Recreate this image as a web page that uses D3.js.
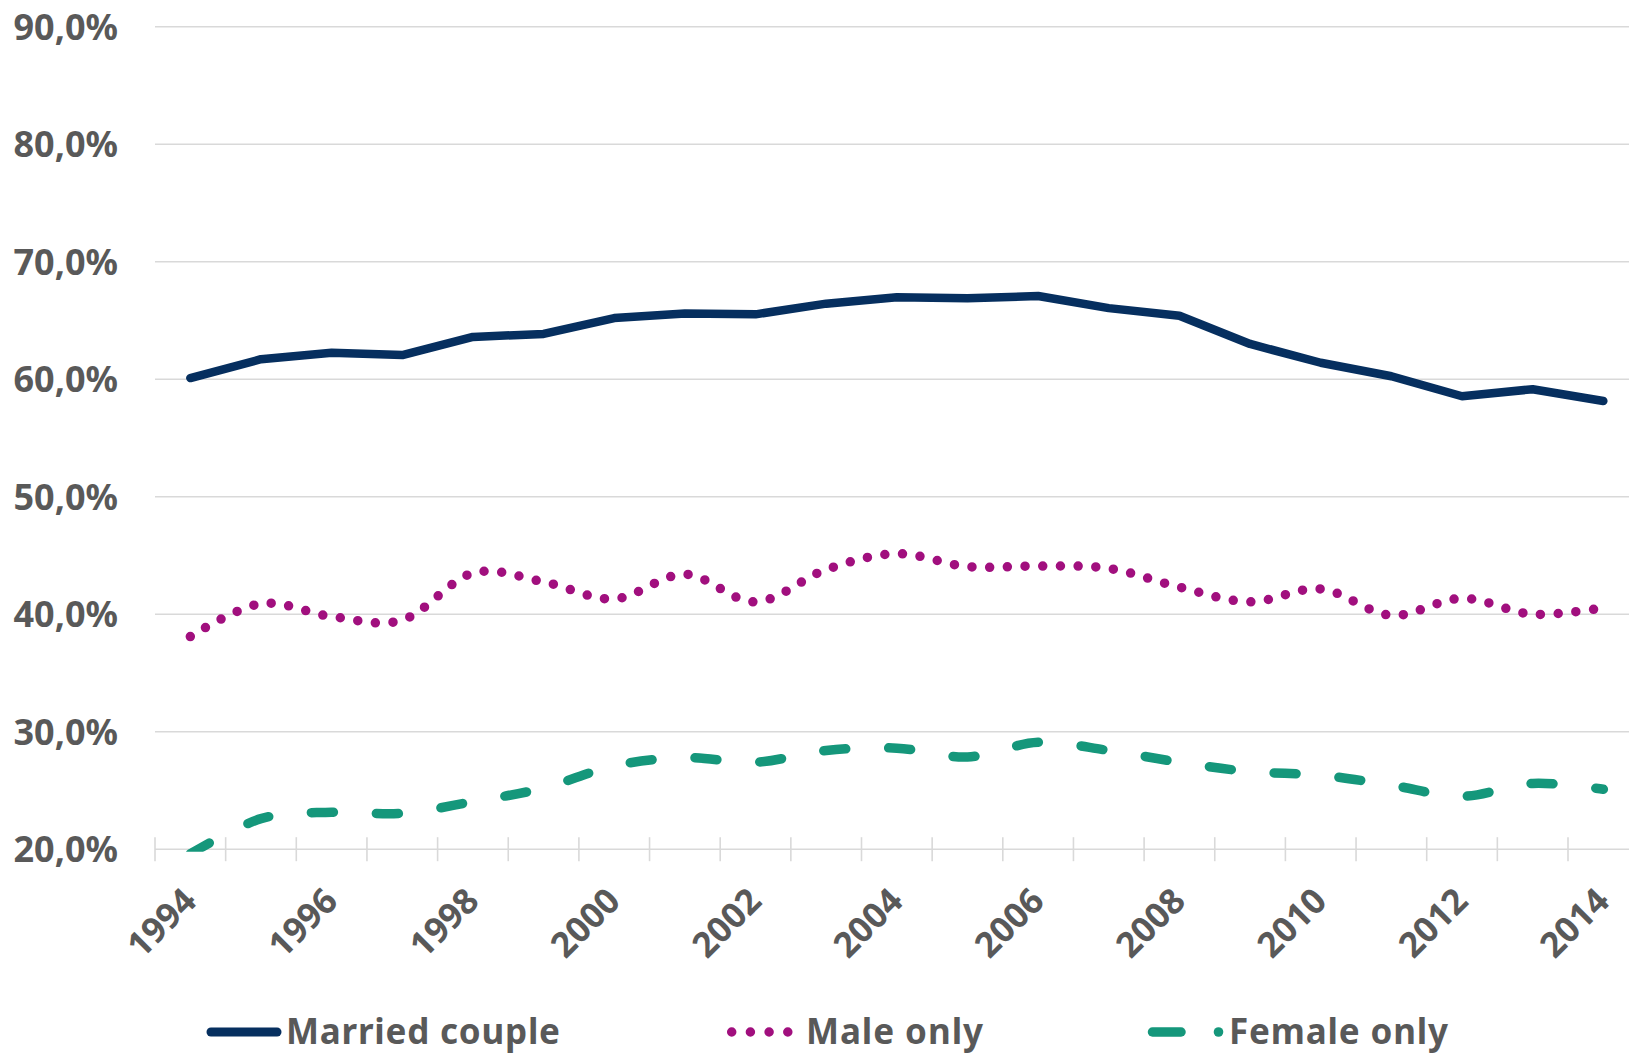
<!DOCTYPE html>
<html><head><meta charset="utf-8">
<script src="https://cdn.jsdelivr.net/npm/d3@7"></script>
<style>
html,body{margin:0;padding:0;background:#fff;}
svg{display:block;}
text{font-family:"Noto Sans",sans-serif;font-weight:700;fill:#595959;}
</style>
</head><body>
<svg id="chart" width="1629" height="1053"></svg>
<script>
// ---- data ----
const years = [1994,1995,1996,1997,1998,1999,2000,2001,2002,2003,2004,2005,2006,2007,2008,2009,2010,2011,2012,2013,2014];
const marriedCouple = [60.1,61.7,62.25,62.05,63.6,63.85,65.2,65.6,65.52,66.43,66.97,66.88,67.08,66.05,65.4,63.0,61.4,60.25,58.55,59.15,58.15];
const maleOnly = [38.1,40.9,39.8,39.5,43.5,42.75,41.3,43.4,41.05,43.8,45.15,44.05,44.1,43.9,42.3,41.05,42.15,39.9,41.35,40.0,40.55];
const femaleOnly = [19.6,22.6,23.15,23.05,24.05,25.2,27.1,27.8,27.4,28.4,28.6,27.85,29.1,28.4,27.4,26.6,26.3,25.45,24.5,25.6,25.1];
const yTicks = [20,30,40,50,60,70,80,90];
const xTickLabels = [1994,1996,1998,2000,2002,2004,2006,2008,2010,2012,2014];
const legendLabels = ["Married couple","Male only","Female only"];

const colors = {married:"#062F5F", male:"#A10F7E", female:"#15977B", grid:"#D9D9D9"};

const svg = d3.select("#chart");
const W = 1629, H = 1053;
const left = 155, step = 70.65;
const x = d3.scaleBand().domain(years).range([left, left + step*years.length]).padding(0);
const cx = d => x(d) + x.bandwidth()/2;
const y = d3.scaleLinear().domain([20,90]).range([849.2, 26.7]);

// gridlines
svg.append("g").selectAll("line").data(yTicks.filter(t=>t>20)).join("line")
  .attr("x1", left).attr("x2", W).attr("y1", d=>y(d)).attr("y2", d=>y(d))
  .attr("stroke", colors.grid).attr("stroke-width", 1.6);

// x axis line + cross ticks
const axisG = svg.append("g");
axisG.append("line").attr("x1", left).attr("x2", W).attr("y1", y(20)).attr("y2", y(20))
  .attr("stroke", colors.grid).attr("stroke-width", 1.6);
const bounds = years.map(d=>x(d)).concat([x(years[years.length-1]) + x.bandwidth()]);
axisG.selectAll("line.tick").data(bounds).join("line").attr("class","tick")
  .attr("x1", d=>d).attr("x2", d=>d).attr("y1", y(20)-12).attr("y2", y(20)+12)
  .attr("stroke", colors.grid).attr("stroke-width", 1.6);

// y labels
const yAxis = d3.axisLeft(y).tickValues(yTicks).tickSize(0).tickPadding(37)
  .tickFormat(d => d.toFixed(1).replace(".", ",") + "%");
const yg = svg.append("g").attr("transform", `translate(${left},0)`).call(yAxis);
yg.select(".domain").remove();
yg.selectAll("text").style("font-size","36px").style("font-family","'Noto Sans',sans-serif")
  .style("font-weight","700").attr("fill","#595959").attr("dy","0.35em");

// x labels
svg.append("g").selectAll("text").data(xTickLabels).join("text")
  .attr("transform", d => `translate(${cx(d)+8},${903}) rotate(-45)`)
  .attr("text-anchor","end").style("font-size","35px").text(d=>d);

// clip for plot area
svg.append("clipPath").attr("id","plotClip").append("rect")
  .attr("x", left).attr("y", 0).attr("width", W-left).attr("height", y(20)+2.5);

const plot = svg.append("g").attr("clip-path","url(#plotClip)");
const smooth = d3.line().x((d,i)=>cx(years[i])).y(d=>y(d)).curve(d3.curveCardinal.tension(0));
const straight = d3.line().x((d,i)=>cx(years[i])).y(d=>y(d));

plot.append("path").attr("d", smooth(femaleOnly)).attr("fill","none")
  .attr("stroke", colors.female).attr("stroke-width", 9.5).attr("stroke-linecap","round")
  .attr("stroke-dasharray","22 43");
plot.append("path").attr("d", smooth(maleOnly)).attr("fill","none")
  .attr("stroke", colors.male).attr("stroke-width", 9.5).attr("stroke-linecap","round")
  .attr("stroke-dasharray","0 17.7");
plot.append("path").attr("d", straight(marriedCouple)).attr("fill","none")
  .attr("stroke", colors.married).attr("stroke-width", 8.5).attr("stroke-linecap","round")
  .attr("stroke-linejoin","round");

// legend
const lg = svg.append("g");
const ly = 1032, lty = 1044;
lg.append("line").attr("x1",211).attr("x2",277).attr("y1",ly).attr("y2",ly)
  .attr("stroke",colors.married).attr("stroke-width",9).attr("stroke-linecap","round");
lg.append("text").attr("x",286).attr("y",lty).style("font-size","35px")
  .attr("textLength",274).attr("lengthAdjust","spacing").text(legendLabels[0]);

lg.append("line").attr("x1",731.7).attr("x2",788).attr("y1",ly).attr("y2",ly)
  .attr("stroke",colors.male).attr("stroke-width",9.5).attr("stroke-linecap","round")
  .attr("stroke-dasharray","0 18.7");
lg.append("text").attr("x",806).attr("y",lty).style("font-size","35px")
  .attr("textLength",177).attr("lengthAdjust","spacing").text(legendLabels[1]);

lg.append("line").attr("x1",1152.5).attr("x2",1181).attr("y1",ly).attr("y2",ly)
  .attr("stroke",colors.female).attr("stroke-width",9.5).attr("stroke-linecap","round");
lg.append("circle").attr("cx",1218.5).attr("cy",ly).attr("r",4.8).attr("fill",colors.female);
lg.append("text").attr("x",1229).attr("y",lty).style("font-size","35px")
  .attr("textLength",219).attr("lengthAdjust","spacing").text(legendLabels[2]);
</script>
</body></html>
